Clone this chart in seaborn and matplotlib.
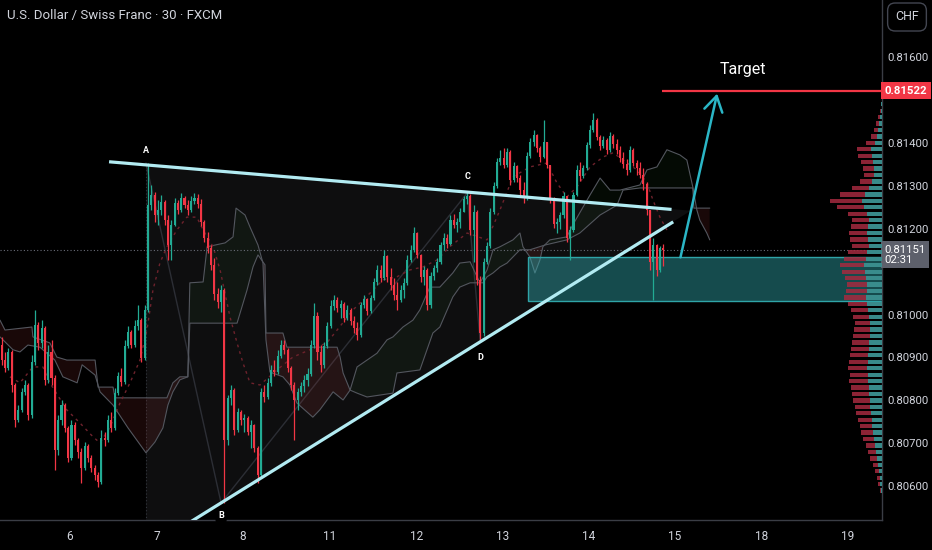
import numpy as np
import matplotlib
matplotlib.use("Agg")
import matplotlib.pyplot as plt
import matplotlib.transforms as mtransforms
from matplotlib.patches import Rectangle, Polygon
import seaborn as sns

# all prices below are in points above 0.80000 (1 point = 0.00001 CHF)
title = "U.S. Dollar / Swiss Franc · 30 · FXCM"
day_labels = ["6", "7", "8", "11", "12", "13", "14", "15", "18", "19"]
day_pos = [20.5, 46.6, 72.6, 98.7, 124.8, 150.6, 176.6, 202.5, 228.6, 254.5]
price_ticks = [0.806, 0.807, 0.808, 0.809, 0.810, 0.812, 0.813, 0.814, 0.816]

first_open = 929
close_pts = [894, 876, 913, 836, 754, 778, 820, 836, 766, 890,
             976, 934, 969, 848, 913, 852, 685, 754, 789, 736,
             666, 743, 708, 680, 643, 694, 666, 643, 626, 610,
             712, 708, 754, 736, 817, 857, 843, 927, 959, 929,
             973, 987, 899, 1011, 1255, 1279, 1232, 1244, 1262, 1220,
             1162, 1209, 1260, 1244, 1272, 1255, 1244, 1265, 1272, 1258,
             1216, 1178, 1155, 1116, 1048, 1029, 1057, 708, 806, 824,
             731, 773, 754, 759, 726, 743, 689, 626, 820, 808,
             841, 871, 866, 904, 929, 918, 876, 836, 801, 820,
             834, 848, 862, 929, 997, 913, 883, 927, 973, 1020,
             1034, 1015, 1025, 992, 1011, 985, 969, 952, 1022, 1036,
             1008, 1039, 1076, 1104, 1085, 1137, 1088, 1069, 1046, 1034,
             1057, 1074, 1127, 1151, 1190, 1139, 1088, 1104, 1022, 1090,
             1109, 1123, 1162, 1178, 1165, 1220, 1209, 1216, 1239, 1269,
             1276, 1197, 1239, 1081, 957, 1123, 1160, 1239, 1300, 1355,
             1365, 1349, 1379, 1314, 1346, 1318, 1290, 1272, 1370, 1402,
             1418, 1388, 1367, 1402, 1349, 1272, 1211, 1216, 1232, 1276,
             1178, 1197, 1279, 1337, 1323, 1342, 1395, 1430, 1453, 1414,
             1393, 1407, 1384, 1416, 1397, 1384, 1365, 1351, 1337, 1384,
             1353, 1342, 1325, 1304, 1244, 1123, 1162, 1104, 1155, 1151]
high_pts = [948, 913, 922, 918, 841, 789, 829, 848, 841, 906,
            1011, 983, 987, 973, 929, 941, 859, 766, 801, 794,
            740, 754, 750, 712, 689, 703, 698, 673, 650, 633,
            731, 726, 766, 773, 829, 866, 876, 941, 973, 964,
            987, 1022, 992, 1022, 1353, 1302, 1286, 1267, 1279, 1267,
            1232, 1220, 1272, 1267, 1283, 1276, 1267, 1276, 1283, 1281,
            1269, 1220, 1192, 1162, 1132, 1062, 1069, 1062, 813, 836,
            829, 782, 778, 768, 764, 754, 745, 694, 829, 836,
            852, 883, 894, 918, 941, 941, 922, 880, 843, 829,
            843, 859, 876, 941, 1027, 1006, 929, 936, 983, 1034,
            1046, 1041, 1034, 1029, 1022, 1015, 997, 983, 1029, 1046,
            1039, 1046, 1085, 1116, 1116, 1151, 1139, 1109, 1085, 1076,
            1069, 1085, 1139, 1162, 1204, 1192, 1141, 1113, 1109, 1099,
            1116, 1132, 1169, 1190, 1188, 1232, 1234, 1225, 1248, 1276,
            1286, 1281, 1255, 1244, 1090, 1132, 1169, 1248, 1309, 1365,
            1384, 1388, 1388, 1384, 1355, 1349, 1325, 1309, 1379, 1411,
            1430, 1421, 1393, 1453, 1402, 1349, 1274, 1225, 1239, 1286,
            1276, 1206, 1286, 1349, 1355, 1349, 1402, 1442, 1470, 1458,
            1418, 1416, 1411, 1425, 1421, 1409, 1393, 1379, 1362, 1393,
            1388, 1360, 1355, 1342, 1309, 1244, 1178, 1165, 1160, 1165]
low_pts = [883, 866, 871, 820, 738, 750, 773, 813, 754, 759,
           883, 918, 922, 836, 841, 836, 638, 673, 743, 726,
           657, 661, 696, 666, 608, 638, 657, 633, 615, 598,
           605, 694, 703, 726, 731, 813, 834, 838, 922, 922,
           924, 964, 890, 894, 1006, 1244, 1216, 1209, 1232, 1209,
           1127, 1127, 1206, 1234, 1239, 1248, 1232, 1239, 1258, 1248,
           1206, 1169, 1143, 1104, 1034, 1015, 1006, 561, 696, 789,
           719, 726, 743, 726, 719, 689, 680, 608, 624, 796,
           803, 834, 857, 862, 899, 908, 866, 824, 708, 778,
           810, 820, 834, 857, 922, 894, 866, 876, 922, 969,
           1011, 1006, 992, 983, 987, 976, 957, 941, 948, 1015,
           999, 1004, 1034, 1069, 1076, 1081, 1076, 1057, 1034, 1011,
           1029, 1039, 1069, 1123, 1146, 1132, 1076, 1069, 1011, 1015,
           1081, 1099, 1118, 1151, 1155, 1162, 1202, 1192, 1202, 1239,
           1258, 1185, 1123, 1069, 941, 950, 1118, 1155, 1234, 1295,
           1349, 1342, 1344, 1302, 1309, 1309, 1279, 1260, 1267, 1365,
           1393, 1379, 1355, 1365, 1342, 1260, 1202, 1190, 1199, 1225,
           1169, 1127, 1192, 1276, 1311, 1318, 1337, 1388, 1425, 1407,
           1384, 1388, 1374, 1379, 1388, 1374, 1355, 1342, 1325, 1332,
           1346, 1325, 1318, 1290, 1232, 1104, 1034, 1090, 1099, 1113]

# ichimoku cloud edges (bar index, points)
span_a_x = [-0.5, 3.4, 5.5, 7.9, 11.5, 16.0, 18.4, 22.7, 24.2, 28.1, 29.6, 33.5, 38.0, 43.4,
            46.1, 48.5, 50.0, 51.5, 53.6, 56.0, 56.6, 60.6, 61.8, 67.2, 69.6, 70.5, 73.2, 74.7,
            77.1, 78.6, 79.5, 80.7, 84.6, 86.7, 88.8, 93.6, 95.7, 99.7, 102.7, 104.8, 106.9,
            109.9, 112.9, 115.9, 117.7, 120.7, 123.7, 125.8, 128.8, 131.8, 135.7, 137.8, 140.9,
            143.0, 143.9, 146.0, 147.8, 149.9, 153.8, 155.9, 156.8, 158.9, 160.4, 161.9, 162.8,
            164.9, 170.0, 171.8, 177.0, 180.0, 183.0, 186.0, 192.0, 194.1, 197.1, 200.1, 204.0,
            206.1, 207.9, 209.1, 210.0, 212.1, 213.0]
span_a = [948, 918, 913, 929, 924, 894, 855, 841, 883, 859, 820, 789, 736, 678,
          703, 736, 789, 820, 848, 855, 1074, 1076, 1158, 1167, 1181, 1248, 1232, 1204,
          1162, 1120, 941, 866, 855, 836, 794, 761, 778, 820, 801, 824, 878,
          894, 910, 941, 948, 971, 987, 1011, 1064, 1064, 1097, 1120, 1123,
          1088, 1074, 1104, 1151, 1158, 1174, 1190, 1158, 1134, 1097, 1127, 1158,
          1174, 1181, 1209, 1279, 1318, 1290, 1290, 1302, 1337, 1344, 1384, 1372,
          1360, 1297, 1244, 1220, 1190, 1174]
span_b_x = [-0.5, 1.0, 9.1, 9.4, 14.5, 16.6, 19.6, 28.1, 29.0, 33.5, 34.1, 49.7, 51.5, 53.6,
            56.0, 56.6, 70.8, 73.8, 75.6, 77.1, 79.2, 79.5, 84.6, 85.8, 100.9, 101.8, 102.7,
            104.8, 106.9, 109.9, 117.7, 118.9, 125.8, 129.7, 131.8, 135.7, 137.8, 140.9, 144.8,
            146.0, 147.8, 149.9, 152.0, 155.9, 158.9, 163.4, 170.0, 173.9, 180.0, 185.1, 186.9,
            192.0, 207.9, 208.2, 213.0]
span_b = [987, 964, 971, 948, 934, 901, 894, 894, 831, 831, 806, 806, 841, 855,
          855, 980, 980, 1057, 1111, 1139, 1116, 957, 957, 924, 924, 901, 864,
          824, 817, 808, 817, 864, 871, 957, 971, 1041, 1064, 1074, 1074,
          1088, 1097, 1111, 1120, 1151, 1151, 1162, 1174, 1190, 1232, 1255, 1290,
          1295, 1295, 1248, 1248]
conv_x = [2.5, 5.5, 9.4, 12.4, 14.5, 19.6, 23.6, 27.5, 29.6, 32.6, 35.6, 38.6, 41.6, 43.7,
          45.5, 47.6, 49.7, 52.7, 55.7, 58.7, 60.6, 63.6, 65.7, 68.7, 70.8, 72.6, 74.7, 77.7,
          82.8, 87.6, 92.7, 97.8, 100.9, 105.7, 110.8, 114.7, 118.9, 122.8, 126.7, 130.9,
          134.8, 140.0, 146.0, 149.9, 153.8, 158.9, 164.0, 167.0, 170.0, 173.0, 177.0, 180.9,
          183.9, 186.9, 191.1, 194.1, 195.9, 198.0, 200.1]
conv = [855, 841, 878, 878, 841, 778, 747, 715, 701, 738, 794, 841, 894, 964,
        1057, 1120, 1158, 1197, 1227, 1227, 1197, 1158, 1104, 994, 934, 887, 841, 836,
        871, 901, 918, 934, 964, 1011, 1050, 1081, 1088, 1104, 1111, 1127,
        1158, 1190, 1174, 1244, 1321, 1344, 1353, 1307, 1274, 1297, 1344, 1367,
        1377, 1360, 1337, 1307, 1267, 1227, 1197]

# volume profile, rows every 0.00015 from 0.80590
vp_start = 590
vp_step = 15
vp_total = [2, 4, 5, 7, 9, 12, 14, 16, 19, 21, 22, 24, 26, 27, 29, 30, 31, 33, 32, 34,
            33, 32, 31, 30, 29, 28, 27, 29, 31, 34, 38, 36, 35, 37, 40, 42, 38, 34, 30, 32,
            33, 31, 30, 34, 45, 52, 42, 30, 22, 18, 19, 21, 24, 25, 16, 11, 8, 6, 4, 2, 1]
vp_up = [1, 2, 2, 3, 4, 5, 6, 7, 8, 9, 10, 10, 11, 12, 12, 13, 13, 14, 14, 15,
         14, 14, 13, 13, 12, 12, 12, 13, 14, 15, 16, 15, 15, 16, 17, 18, 16, 15, 13, 14,
         15, 14, 13, 15, 18, 20, 17, 13, 10, 8, 8, 9, 10, 11, 7, 5, 4, 3, 2, 1, 1]

# pattern points A, B, C, D and drawn levels
pivots = {"A": (43.4, 1353), "B": (66.0, 561), "C": (140.0, 1283), "D": (143.9, 941)}
label_pos = {"A": (43.4, 1383), "B": (66.0, 531), "C": (140.0, 1321), "D": (143.9, 901)}
upper_line = [(32.3, 1356), (201.5, 1245)]
lower_line = [(56.6, 516), (202.0, 1216)]
tri_fill = [(43.4, 1349), (207.3, 1242), (43.4, 452)]
zone = (158.3, 1032, 1133)
target_price = 1522
target_start = 198.6
arrow_from = (204.0, 1127)
arrow_to = (215.4, 1521)
last_price = 1151
countdown = "02:31"


def pr(v):
    return 0.8 + np.asarray(v, dtype=float) / 1e5


TEAL = "#22ab94"
RED = "#f23645"
TXT = "#d1d4dc"

sns.set_theme(style="dark", rc={"axes.facecolor": "black", "figure.facecolor": "black",
                                "axes.grid": False})
plt.rcParams["font.family"] = ["Roboto", "DejaVu Sans"]

fig = plt.figure(figsize=(9.32, 5.5), dpi=100)
ax = fig.add_axes([0, 30 / 550, 882 / 932, 520 / 550])
ax.set_facecolor("black")
XMAX = 264.8
ax.set_xlim(-0.5, XMAX)
ax.set_ylim(0.805214, 0.817329)

# triangle pattern background
ax.add_patch(Polygon([(x, pr(p)) for x, p in tri_fill], closed=True,
                     fc="#8a8d96", alpha=0.10, lw=0, zorder=0.5))
ax.plot([pivots["A"][0]] * 2, [pr(pivots["A"][1]), 0.8050], ls=(0, (1, 2)),
        color="#33363e", lw=0.8, zorder=0.6)
ax.plot([pivots[k][0] for k in "ABCD"], pr([pivots[k][1] for k in "ABCD"]),
        color="#2c2e35", lw=1.0, zorder=0.7)

# ichimoku cloud
xs = np.arange(-0.5, 213.0, 0.05)
a_i = np.interp(xs, span_a_x, pr(span_a))
b_i = np.interp(xs, span_b_x, pr(span_b))
ax.fill_between(xs, a_i, b_i, where=a_i >= b_i, interpolate=True,
                color="#4caf50", alpha=0.06, lw=0, zorder=0.8)
ax.fill_between(xs, a_i, b_i, where=a_i < b_i, interpolate=True,
                color="#b23a3a", alpha=0.14, lw=0, zorder=0.8)
sns.lineplot(x=span_a_x, y=pr(span_a), estimator=None, sort=False, ax=ax,
             color="#53565e", lw=0.8, zorder=0.9)
sns.lineplot(x=span_b_x, y=pr(span_b), estimator=None, sort=False, ax=ax,
             color="#53565e", lw=0.8, zorder=0.9)
sns.lineplot(x=conv_x, y=pr(conv), estimator=None, sort=False, ax=ax,
             color="#6e222c", lw=1.0, linestyle=(0, (2, 3)), zorder=0.95)

# demand zone
zx, zlo, zhi = zone
ax.add_patch(Rectangle((zx, pr(zlo)), XMAX - zx + 2, pr(zhi) - pr(zlo),
                       fc="#33b5b9", alpha=0.42, ec="none", zorder=1.0))
ax.add_patch(Rectangle((zx, pr(zlo)), XMAX - zx + 2, pr(zhi) - pr(zlo),
                       fc="none", ec="#2fa4a8", lw=1.0, zorder=1.05))

# current price line
ax.axhline(pr(last_price), color="#6a6d78", ls=(0, (1, 2)), lw=0.8, zorder=1.1)

# candles
c = pr(close_pts)
o = np.r_[pr(first_open), c[:-1]]
h = pr(high_pts)
l = pr(low_pts)
idx = np.arange(len(c))
cols = np.where(c >= o, TEAL, RED)
ax.vlines(idx, l, h, colors=cols, lw=0.9, zorder=3)
ax.bar(idx, np.maximum(np.abs(c - o), 0.00002), bottom=np.minimum(o, c), width=0.62,
       color=cols, lw=0, zorder=3.1)

# triangle lines
for line in (upper_line, lower_line):
    ax.plot([p[0] for p in line], pr([p[1] for p in line]), color="#b2ebf2",
            lw=2.3, solid_capstyle="butt", zorder=4)

# labels A-D
for k, (x, p) in label_pos.items():
    ax.text(x, pr(p), k, color="white", fontsize=6.5, fontweight="bold",
            ha="center", va="center", zorder=6,
            bbox=dict(boxstyle="round,pad=0.3", fc="black", ec="none"))

# target
ax.hlines(pr(target_price), target_start, XMAX, color=RED, lw=1.6, zorder=5)
ax.text(223.0, pr(1570), "Target", color="white", fontsize=11.5, ha="center",
        va="center", zorder=6)
ax.annotate("", xy=(arrow_to[0], pr(arrow_to[1])), xytext=(arrow_from[0], pr(arrow_from[1])),
            arrowprops=dict(arrowstyle="->,head_length=0.9,head_width=0.55",
                            color="#2bb6c6", lw=1.8), zorder=5)

# axes styling
ax.yaxis.tick_right()
ax.set_yticks(price_ticks)
ax.set_yticklabels([f"{t:.5f}" for t in price_ticks])
ax.set_xticks(day_pos)
ax.set_xticklabels(day_labels)
ax.tick_params(axis="y", length=0, pad=4, labelcolor=TXT, labelsize=8.2)
ax.tick_params(axis="x", length=0, pad=7, labelcolor=TXT, labelsize=8.5)
for s in ("top", "left"):
    ax.spines[s].set_visible(False)
for s in ("right", "bottom"):
    ax.spines[s].set_color("#3a3d45")
    ax.spines[s].set_linewidth(1.0)

# volume profile on the right edge
ax2 = ax.twiny()
ax2.set_xlim(max(vp_total) * 17, 0)
rows = pr([vp_start + vp_step * i for i in range(len(vp_total))])
ax2.barh(rows, vp_total, height=0.0001, color="#a52a3f", alpha=0.85, lw=0, zorder=2)
ax2.barh(rows, vp_up, height=0.0001, color="#2a9d9a", alpha=0.85, lw=0, zorder=2.1)
ax2.set_xticks([])
for s in ax2.spines.values():
    s.set_visible(False)
ax2.set_ylim(ax.get_ylim())

# price scale boxes
trans = mtransforms.blended_transform_factory(ax.transAxes, ax.transData)
ax.text(1.003, pr(target_price), f"{pr(target_price):.5f}", transform=trans, ha="left",
        va="center", color="white", fontsize=8.2, fontweight="bold", zorder=20, clip_on=False,
        bbox=dict(boxstyle="square,pad=0.3", fc=RED, ec="none"))
ax.text(1.003, pr(last_price + 12), f"{pr(last_price):.5f}\n{countdown}", transform=trans,
        ha="left", va="top", color="white", fontsize=8.2, linespacing=1.05, zorder=20,
        clip_on=False, bbox=dict(boxstyle="square,pad=0.3", fc="#5d606b", ec="none"))

fig.text(907 / 932, 1 - 17 / 550, "CHF", ha="center", va="center", color=TXT, fontsize=9,
         bbox=dict(boxstyle="round,pad=0.6", fc="black", ec="#434651", lw=1))
fig.text(7 / 932, 1 - 15 / 550, title, ha="left", va="center", color=TXT, fontsize=9.5)

fig.savefig("out.png", dpi=100, facecolor="black")
